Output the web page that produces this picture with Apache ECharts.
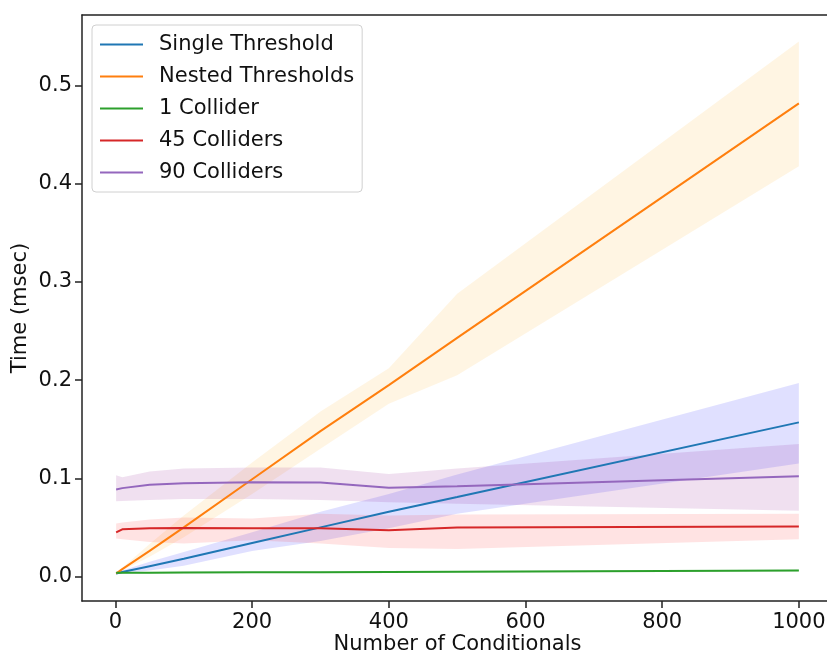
<!DOCTYPE html>
<html>
<head>
<meta charset="utf-8">
<script src="https://cdn.jsdelivr.net/npm/echarts@6/dist/echarts.min.js"></script>
<style>
html,body{margin:0;padding:0;background:#fff;overflow:hidden;}
#chart{width:827px;height:655px;}
</style>
</head>
<body>
<div id="chart"></div>
<script>
// ---- data ----
const conditionals = [1, 10, 50, 100, 200, 300, 400, 500, 1000];
const seriesNames = ['Single Threshold', 'Nested Thresholds', '1 Collider', '45 Colliders', '90 Colliders'];
const xTicks = [0, 200, 400, 600, 800, 1000];
const yTicks = [0.0, 0.1, 0.2, 0.3, 0.4, 0.5];

const singleMean  = [0.003, 0.0045, 0.0105, 0.018, 0.034, 0.050, 0.066, 0.081, 0.157];
const singleLow   = [0.002, 0.003, 0.006, 0.011, 0.026, 0.036, 0.049, 0.064, 0.115];
const singleHigh  = [0.004, 0.006, 0.015, 0.025, 0.045, 0.066, 0.084, 0.104, 0.197];

const nestedMean  = [0.003, 0.0075, 0.026, 0.050, 0.099, 0.148, 0.195, 0.243, 0.482];
const nestedLow   = [0.002, 0.006, 0.020, 0.040, 0.084, 0.130, 0.176, 0.205, 0.418];
const nestedHigh  = [0.004, 0.009, 0.033, 0.062, 0.116, 0.168, 0.212, 0.288, 0.545];

const oneMean     = [0.0037, 0.0037, 0.0038, 0.0040, 0.0042, 0.0044, 0.0046, 0.0048, 0.0060];
const oneLow      = [0.0030, 0.0030, 0.0031, 0.0033, 0.0035, 0.0037, 0.0039, 0.0041, 0.0052];
const oneHigh     = [0.0044, 0.0044, 0.0045, 0.0047, 0.0049, 0.0051, 0.0053, 0.0055, 0.0068];

const c45Mean     = [0.045, 0.048, 0.049, 0.0494, 0.049, 0.049, 0.047, 0.050, 0.051];
const c45Low      = [0.0387, 0.038, 0.035, 0.0336, 0.037, 0.0336, 0.029, 0.028, 0.038];
const c45High     = [0.054, 0.055, 0.058, 0.060, 0.059, 0.064, 0.062, 0.063, 0.064];

const c90Mean     = [0.0886, 0.090, 0.0935, 0.095, 0.096, 0.0957, 0.0903, 0.092, 0.102];
const c90Low      = [0.0767, 0.077, 0.078, 0.079, 0.079, 0.078, 0.0757, 0.074, 0.067];
const c90High     = [0.103, 0.101, 0.107, 0.110, 0.111, 0.111, 0.1045, 0.110, 0.135];

const lineColors = ['#1f77b4', '#ff7f0e', '#2ca02c', '#d62728', '#9467bd'];
const bandColors = ['rgba(0,0,255,0.12)', 'rgba(255,165,0,0.11)', 'rgba(0,128,0,0.15)', 'rgba(255,0,0,0.11)', 'rgba(128,0,128,0.12)'];

const means = [singleMean, nestedMean, oneMean, c45Mean, c90Mean];
const lows  = [singleLow, nestedLow, oneLow, c45Low, c90Low];
const highs = [singleHigh, nestedHigh, oneHigh, c45High, c90High];

const FONT = 'DejaVu Sans';
const FS = 21;

function bandSeries(i) {
  return {
    type: 'custom',
    name: seriesNames[i] + ' band',
    silent: true,
    z: 1,
    data: [[0, 0]],
    renderItem: function (params, api) {
      const pts = [];
      for (let k = 0; k < conditionals.length; k++) pts.push(api.coord([conditionals[k], highs[i][k]]));
      for (let k = conditionals.length - 1; k >= 0; k--) pts.push(api.coord([conditionals[k], lows[i][k]]));
      return { type: 'polygon', shape: { points: pts }, style: { fill: bandColors[i], stroke: null } };
    }
  };
}

function lineSeries(i) {
  return {
    type: 'line',
    name: seriesNames[i],
    data: conditionals.map((x, k) => [x, means[i][k]]),
    showSymbol: false,
    symbol: 'none',
    z: 3,
    color: lineColors[i],
    lineStyle: { width: 2, color: lineColors[i] },
    animation: false
  };
}

const series = [];
for (let i = 0; i < 5; i++) { series.push(lineSeries(i)); series.push(bandSeries(i)); }

const axisLineStyle = { color: '#222', width: 1.5 };

const chart = echarts.init(document.getElementById('chart'), null, { renderer: 'canvas' });
chart.setOption({
  animation: false,
  backgroundColor: '#fff',
  grid: { left: 82, top: 15, width: 751, height: 586, show: false, containLabel: false, outerBoundsMode: 'none' },
  legend: {
    data: seriesNames,
    orient: 'vertical',
    left: 92, top: 25,
    icon: 'rect',
    itemWidth: 43, itemHeight: 2,
    itemGap: 11,
    padding: [9, 8, 9, 8],
    backgroundColor: 'rgba(255,255,255,0.85)',
    borderColor: '#d0d0d0', borderWidth: 1, borderRadius: 4,
    textStyle: { fontFamily: FONT, fontSize: FS, color: '#111', padding: [0, 0, 0, 11] }
  },
  xAxis: [{
    type: 'value',
    position: 'bottom',
    min: -48.95, max: 1049.95,
    name: 'Number of Conditionals',
    nameLocation: 'middle', nameGap: 33,
    nameMoveOverlap: false,
    nameTextStyle: { fontFamily: FONT, fontSize: FS, color: '#111' },
    splitLine: { show: false },
    axisLine: { show: true, onZero: false, lineStyle: axisLineStyle },
    axisTick: { show: true, length: 7, lineStyle: axisLineStyle, customValues: xTicks },
    axisLabel: { fontFamily: FONT, fontSize: FS, color: '#111', margin: 11, customValues: xTicks, formatter: v => String(v) }
  }, {
    type: 'value',
    position: 'top',
    min: -48.95, max: 1049.95,
    splitLine: { show: false },
    axisLine: { show: true, onZero: false, lineStyle: axisLineStyle },
    axisTick: { show: false },
    axisLabel: { show: false }
  }],
  yAxis: {
    type: 'value',
    min: -0.025, max: 0.572,
    name: 'Time (msec)',
    nameLocation: 'middle', nameGap: 51,
    nameMoveOverlap: false,
    nameTextStyle: { fontFamily: FONT, fontSize: FS, color: '#111' },
    splitLine: { show: false },
    axisLine: { show: true, onZero: false, lineStyle: axisLineStyle },
    axisTick: { show: true, length: 7, lineStyle: axisLineStyle, customValues: yTicks },
    axisLabel: { fontFamily: FONT, fontSize: FS, color: '#111', margin: 10, customValues: yTicks, formatter: v => v.toFixed(1) }
  },
  series: series
});
</script>
</body>
</html>
